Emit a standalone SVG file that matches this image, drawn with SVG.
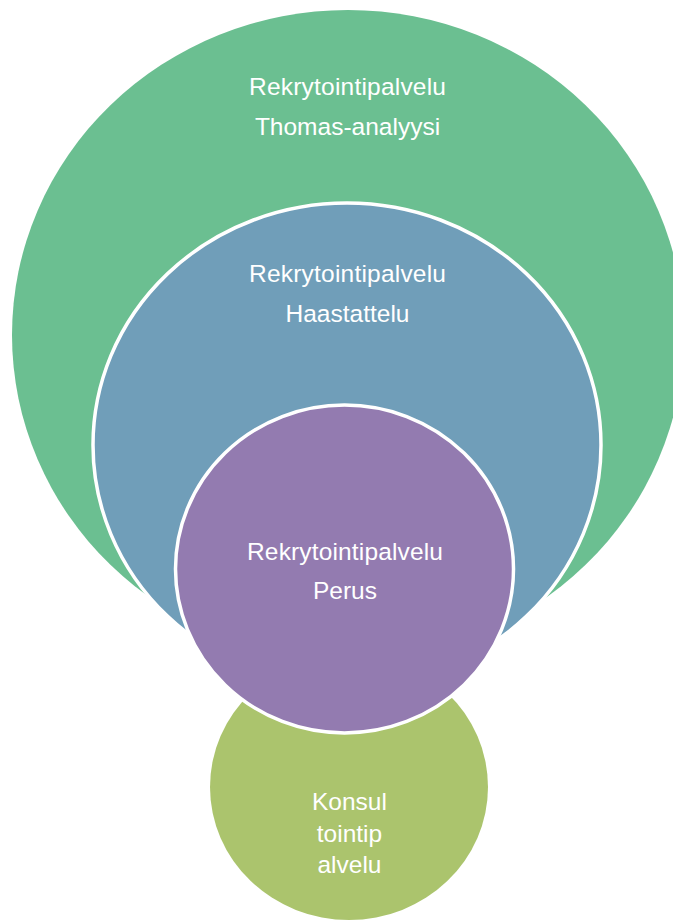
<svg xmlns="http://www.w3.org/2000/svg" width="673" height="920" viewBox="0 0 673 920">
<style>
.lbl{font-family:"Liberation Sans",Arial,sans-serif;font-size:24.5px;fill:#ffffff;text-anchor:middle}
.ring{stroke:#ffffff;stroke-width:3.5}
</style>
<rect width="673" height="920" fill="#ffffff"/>
<g id="thomas">
<ellipse cx="348" cy="335" rx="336" ry="325" fill="#6BBF91"/>
<text class="lbl" x="347.5" y="95" textLength="197" lengthAdjust="spacing">Rekrytointipalvelu</text>
<text class="lbl" x="347.5" y="135">Thomas-analyysi</text>
</g>
<g id="haastattelu">
<ellipse class="ring" cx="347" cy="445" rx="254" ry="242" fill="#709EB9"/>
<text class="lbl" x="347.5" y="282" textLength="197" lengthAdjust="spacing">Rekrytointipalvelu</text>
<text class="lbl" x="347.5" y="322">Haastattelu</text>
</g>
<g id="konsultointipalvelu">
<ellipse cx="349" cy="787" rx="139" ry="133" fill="#ABC46D"/>
<text class="lbl" x="349.5" y="810">Konsul</text>
<text class="lbl" x="349.5" y="842">tointip</text>
<text class="lbl" x="349.5" y="873">alvelu</text>
</g>
<g id="perus">
<ellipse class="ring" cx="344.5" cy="569" rx="169" ry="164" fill="#937BB0"/>
<text class="lbl" x="345" y="560" textLength="196" lengthAdjust="spacing">Rekrytointipalvelu</text>
<text class="lbl" x="345" y="599">Perus</text>
</g>
<g id="connectors"></g>
</svg>
